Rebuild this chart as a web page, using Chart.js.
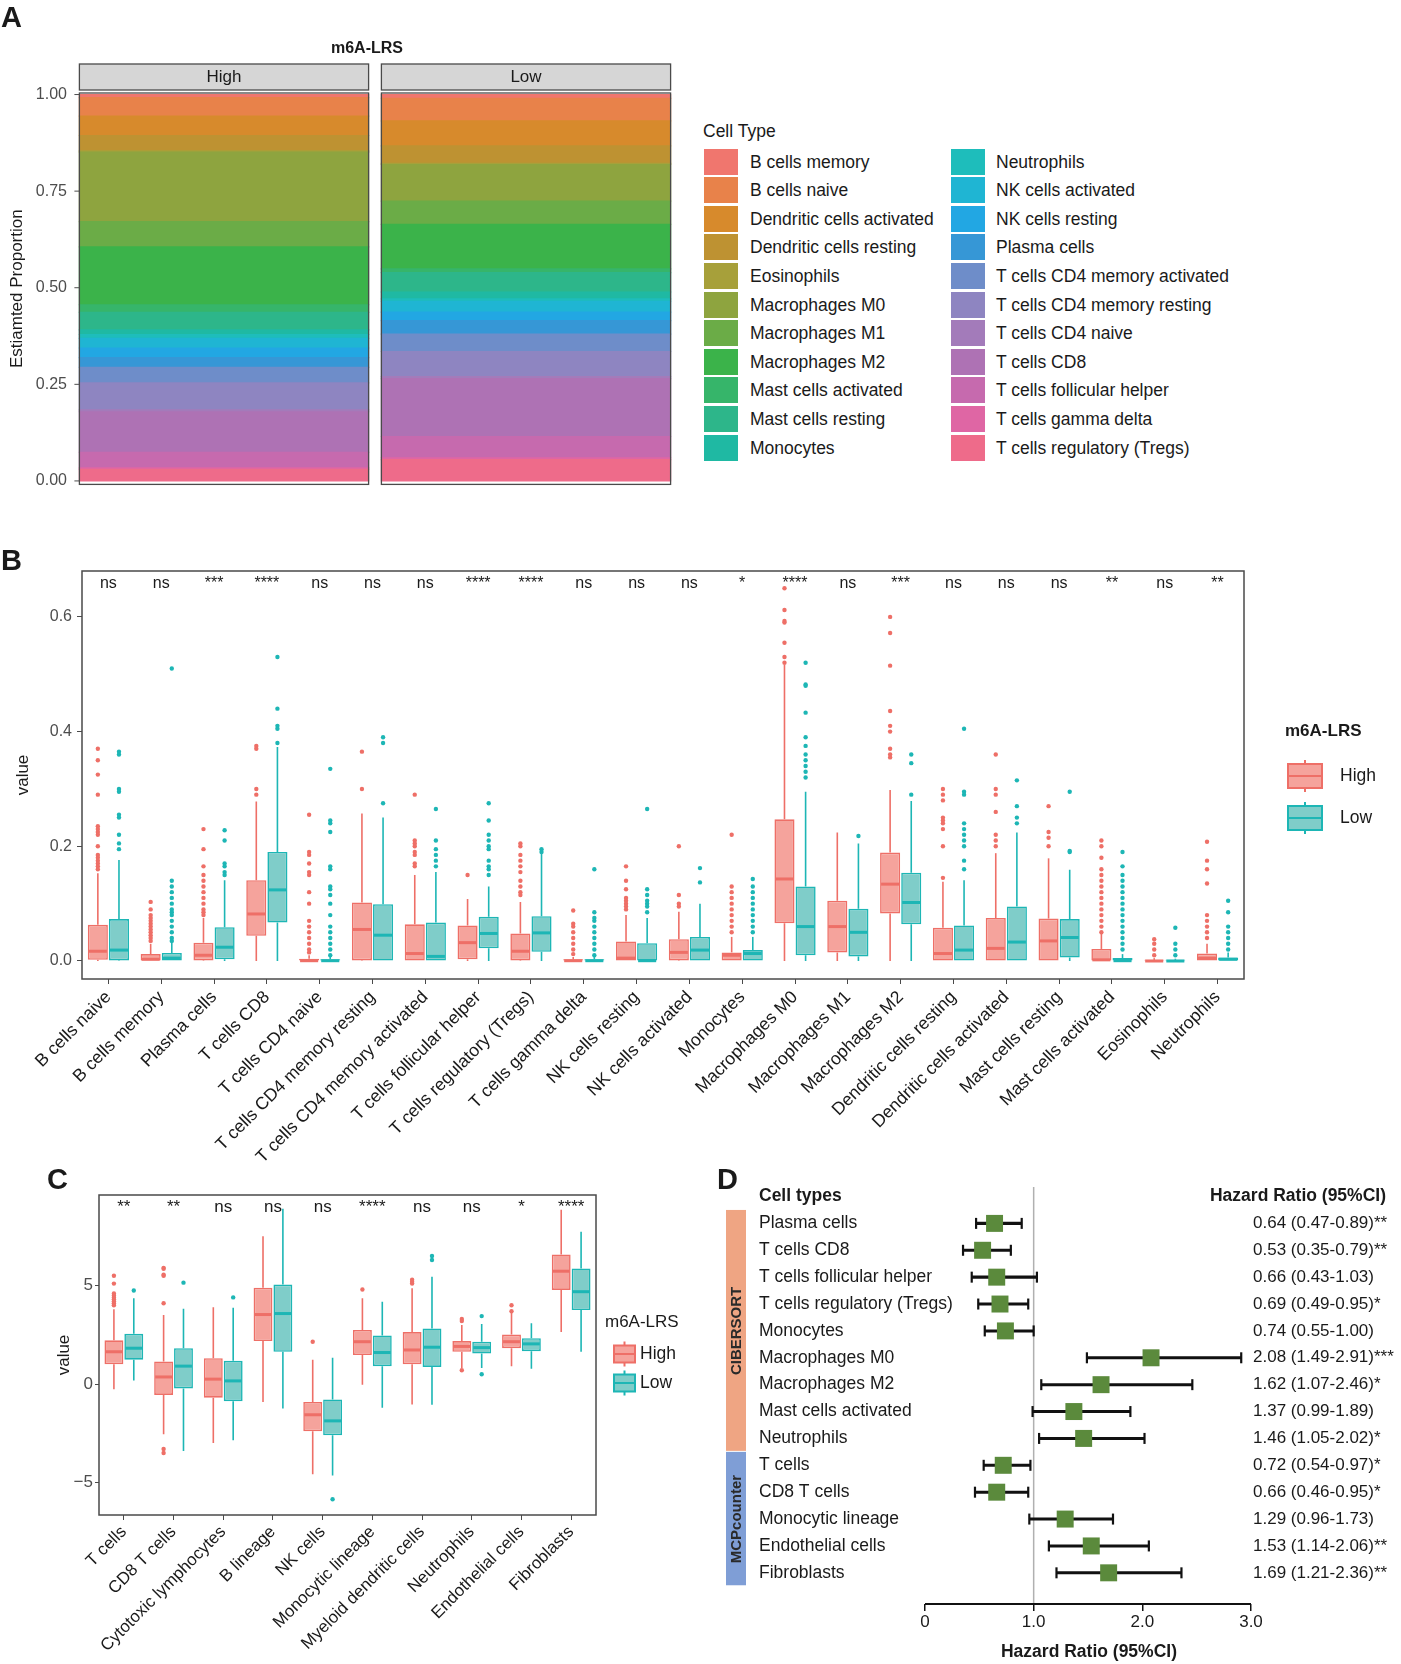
<!DOCTYPE html>
<html>
<head>
<meta charset="utf-8">
<script src="https://cdn.jsdelivr.net/npm/chart.js@4.4.1/dist/chart.umd.min.js"></script>
<style>
body { margin: 0; background: #fff; font-family: 'Liberation Sans', Arial, Helvetica, sans-serif; color: #1a1a1a; }
#page { position: relative; width: 1401px; height: 1664px; overflow: hidden; }
canvas { position: absolute; }
.tag { position: absolute; font-weight: bold; font-size: 29px; line-height: 30px; }
.sw { position: absolute; width: 34px; height: 26px; }
.lt { position: absolute; font-size: 17.5px; line-height: 26px; white-space: nowrap; }
.hd { position: absolute; font-weight: bold; font-size: 17.5px; line-height: 20px; white-space: nowrap; }
</style>
</head>
<body>
<div id="page">
  <canvas id="chartA" width="690" height="500" style="left:0px;top:0px"></canvas>
  <canvas id="chartB" width="1401" height="640" style="left:0px;top:540px"></canvas>
  <canvas id="chartC" width="700" height="514" style="left:0px;top:1150px"></canvas>
  <canvas id="chartD" width="701" height="514" style="left:700px;top:1150px"></canvas>
  <div class="tag" style="left:1px;top:2px">A</div>
  <div class="tag" style="left:1px;top:545px">B</div>
  <div class="tag" style="left:47px;top:1164px">C</div>
  <div class="tag" style="left:717px;top:1164px">D</div>
  <div id="legA"></div>
  <div class="hd" style="left:759px;top:1185px">Cell types</div>
  <div class="hd" style="right:15px;top:1185px">Hazard Ratio (95%CI)</div>
  <div class="hd" style="left:939px;width:300px;text-align:center;top:1641px">Hazard Ratio (95%CI)</div>
</div>
<script>
// ---------- panel A: CIBERSORT composition (mean proportion per group)
var groups = ['High', 'Low'];
var cellTypes = ['B cells memory', 'B cells naive', 'Dendritic cells activated', 'Dendritic cells resting',
  'Eosinophils', 'Macrophages M0', 'Macrophages M1', 'Macrophages M2', 'Mast cells activated',
  'Mast cells resting', 'Monocytes', 'Neutrophils', 'NK cells activated', 'NK cells resting',
  'Plasma cells', 'T cells CD4 memory activated', 'T cells CD4 memory resting', 'T cells CD4 naive',
  'T cells CD8', 'T cells follicular helper', 'T cells gamma delta', 'T cells regulatory (Tregs)'];
var cellColors = ['#F0766E', '#E8824A', '#D78A2C', '#BE9232', '#A7A03A', '#8EA43F', '#6BAC47', '#3BB34A',
  '#36B56A', '#2DB68A', '#1FB9A3', '#1EBDBB', '#1FB5D3', '#22A7E3', '#3697D6', '#6E8DC9',
  '#8E85C1', '#A37BBA', '#AE72B4', '#C66AAE', '#DF66A4', '#EE6B8A'];
var propHigh = [0.008, 0.048, 0.05, 0.04, 0.003, 0.18, 0.065, 0.15, 0.02, 0.045, 0.012,
  0.01, 0.025, 0.025, 0.025, 0.04, 0.07, 0.005, 0.105, 0.04, 0.004, 0.03];
var propLow = [0.01, 0.058, 0.065, 0.045, 0.003, 0.095, 0.06, 0.115, 0.01, 0.05, 0.018,
  0.006, 0.028, 0.022, 0.035, 0.045, 0.065, 0.005, 0.15, 0.055, 0.005, 0.055];
var yTicksA = [0, 0.25, 0.5, 0.75, 1];

// ---------- panel B: CIBERSORT boxplots [lower whisker, q1, median, q3, upper whisker]
var bCats = ['B cells naive', 'B cells memory', 'Plasma cells', 'T cells CD8', 'T cells CD4 naive',
  'T cells CD4 memory resting', 'T cells CD4 memory activated', 'T cells follicular helper',
  'T cells regulatory (Tregs)', 'T cells gamma delta', 'NK cells resting', 'NK cells activated',
  'Monocytes', 'Macrophages M0', 'Macrophages M1', 'Macrophages M2', 'Dendritic cells resting',
  'Dendritic cells activated', 'Mast cells resting', 'Mast cells activated', 'Eosinophils', 'Neutrophils'];
var bSig = ['ns', 'ns', '***', '****', 'ns', 'ns', 'ns', '****', '****', 'ns', 'ns', 'ns', '*', '****',
  'ns', '***', 'ns', 'ns', 'ns', '**', 'ns', '**'];
var bHigh = [[0, 0.002, 0.017, 0.063, 0.153], [0, 0, 0.003, 0.012, 0.03], [0, 0.001, 0.01, 0.032, 0.075],
  [0, 0.044, 0.082, 0.141, 0.278], [0, 0, 0.0005, 0.004, 0.01], [0, 0.001, 0.055, 0.102, 0.257],
  [0, 0, 0.013, 0.064, 0.15], [0, 0.003, 0.032, 0.062, 0.108], [0, 0.001, 0.017, 0.048, 0.103],
  [0, 0, 0.0005, 0.003, 0.007], [0, 0, 0.005, 0.034, 0.08], [0, 0.001, 0.015, 0.038, 0.086],
  [0, 0, 0.01, 0.015, 0.042], [0, 0.066, 0.143, 0.247, 0.516], [0, 0.015, 0.06, 0.105, 0.224],
  [0, 0.083, 0.134, 0.189, 0.298], [0, 0, 0.013, 0.058, 0.138], [0, 0, 0.022, 0.075, 0.188],
  [0, 0, 0.035, 0.074, 0.179], [0, 0, 0.002, 0.021, 0.048], [0, 0, 0, 0.002, 0.005],
  [0, 0, 0.005, 0.013, 0.03]];
var bLow = [[0, 0.001, 0.019, 0.073, 0.176], [0, 0, 0.005, 0.014, 0.033], [0, 0.003, 0.024, 0.059, 0.141],
  [0, 0.067, 0.124, 0.19, 0.373], [0, 0, 0.0005, 0.003, 0.007], [0, 0, 0.045, 0.099, 0.25],
  [0, 0, 0.008, 0.067, 0.155], [0, 0.022, 0.048, 0.077, 0.13], [0, 0.016, 0.049, 0.078, 0.188],
  [0, 0, 0.0005, 0.003, 0.007], [0, 0, 0.0005, 0.031, 0.075], [0, 0, 0.019, 0.042, 0.1],
  [0, 0, 0.013, 0.019, 0.042], [0, 0.01, 0.06, 0.13, 0.295], [0, 0.008, 0.05, 0.091, 0.205],
  [0, 0.064, 0.102, 0.154, 0.279], [0, 0, 0.019, 0.062, 0.141], [0, 0, 0.033, 0.095, 0.224],
  [0, 0.006, 0.041, 0.073, 0.159], [0, 0, 0.0005, 0.005, 0.012], [0, 0, 0, 0.002, 0.004],
  [0, 0, 0.003, 0.006, 0.015]];
var bHighOut = [[0.37, 0.35, 0.325, 0.29, 0.235, 0.23, 0.225, 0.22, 0.2, 0.185, 0.18, 0.175, 0.17, 0.165, 0.16],
  [0.103, 0.09, 0.08, 0.075, 0.07, 0.065, 0.06, 0.055, 0.05, 0.045, 0.04, 0.035],
  [0.23, 0.195, 0.165, 0.15, 0.14, 0.13, 0.12, 0.11, 0.1, 0.09, 0.085, 0.08],
  [0.375, 0.37, 0.3, 0.29],
  [0.255, 0.19, 0.185, 0.17, 0.155, 0.15, 0.12, 0.1, 0.07, 0.06, 0.05, 0.04, 0.03, 0.02, 0.015],
  [0.365, 0.3],
  [0.29, 0.21, 0.205, 0.2, 0.19, 0.185, 0.17, 0.165],
  [0.15],
  [0.205, 0.2, 0.185, 0.175, 0.165, 0.155, 0.14, 0.13, 0.12, 0.115],
  [0.088, 0.065, 0.06, 0.05, 0.04, 0.03, 0.02, 0.012],
  [0.165, 0.14, 0.125, 0.11, 0.105, 0.1, 0.095, 0.09],
  [0.2, 0.115, 0.1, 0.095],
  [0.22, 0.13, 0.12, 0.11, 0.1, 0.09, 0.08, 0.07, 0.06, 0.05],
  [0.65, 0.612, 0.593, 0.59, 0.555, 0.53, 0.52],
  [],
  [0.6, 0.572, 0.515, 0.436, 0.41, 0.4, 0.37, 0.36, 0.355],
  [0.3, 0.29, 0.28, 0.25, 0.245, 0.24, 0.23, 0.2, 0.145],
  [0.36, 0.3, 0.29, 0.26, 0.22, 0.21, 0.2],
  [0.27, 0.225, 0.215, 0.2],
  [0.21, 0.2, 0.18, 0.16, 0.15, 0.14, 0.13, 0.12, 0.11, 0.1, 0.09, 0.08, 0.07, 0.06, 0.05],
  [0.038, 0.03, 0.02, 0.01],
  [0.208, 0.175, 0.16, 0.135, 0.08, 0.07, 0.06, 0.05, 0.04]];
var bLowOut = [[0.365, 0.36, 0.3, 0.295, 0.255, 0.25, 0.22, 0.205, 0.195],
  [0.51, 0.14, 0.13, 0.12, 0.11, 0.1, 0.09, 0.085, 0.08, 0.07, 0.06, 0.05, 0.04, 0.035],
  [0.228, 0.21, 0.17, 0.165, 0.155, 0.15],
  [0.53, 0.44, 0.41, 0.405, 0.38],
  [0.335, 0.245, 0.24, 0.225, 0.165, 0.16, 0.13, 0.125, 0.115, 0.1, 0.08, 0.06, 0.05, 0.04, 0.03, 0.02, 0.01],
  [0.39, 0.38, 0.275],
  [0.265, 0.21, 0.195, 0.185, 0.175, 0.165],
  [0.275, 0.245, 0.22, 0.21, 0.2, 0.195, 0.175, 0.165, 0.16, 0.15],
  [0.195, 0.19],
  [0.16, 0.085, 0.075, 0.07, 0.06, 0.05, 0.04, 0.03, 0.02, 0.01],
  [0.265, 0.125, 0.115, 0.105, 0.1, 0.095, 0.085],
  [0.162, 0.137],
  [0.143, 0.13, 0.12, 0.11, 0.1, 0.09, 0.08, 0.07, 0.06, 0.05],
  [0.52, 0.482, 0.48, 0.433, 0.39, 0.375, 0.36, 0.35, 0.34, 0.33, 0.32],
  [0.218],
  [0.36, 0.345, 0.29],
  [0.405, 0.295, 0.29, 0.24, 0.23, 0.22, 0.21, 0.2, 0.175, 0.16],
  [0.315, 0.27, 0.25, 0.24],
  [0.295, 0.192, 0.19],
  [0.19, 0.165, 0.15, 0.14, 0.13, 0.12, 0.11, 0.1, 0.09, 0.08, 0.07, 0.06, 0.05, 0.04, 0.03, 0.02],
  [0.058, 0.03, 0.02, 0.01],
  [0.105, 0.085, 0.06, 0.05, 0.04, 0.03, 0.02]];
var yTicksB = [0, 0.2, 0.4, 0.6];

// ---------- panel C: MCPcounter boxplots
var cCats = ['T cells', 'CD8 T cells', 'Cytotoxic lymphocytes', 'B lineage', 'NK cells', 'Monocytic lineage',
  'Myeloid dendritic cells', 'Neutrophils', 'Endothelial cells', 'Fibroblasts'];
var cSig = ['**', '**', 'ns', 'ns', 'ns', '****', 'ns', 'ns', '*', '****'];
var cHigh = [[-0.27, 1.0, 1.64, 2.22, 3.8], [-2.55, -0.55, 0.36, 1.15, 3.5], [-3.0, -0.69, 0.25, 1.31, 3.9],
  [-0.91, 2.18, 3.53, 4.89, 7.5], [-4.58, -2.4, -1.56, -0.91, 1.24], [-0.04, 1.47, 2.15, 2.75, 4.36],
  [-1.04, 1.0, 1.73, 2.64, 4.87], [0.82, 1.64, 1.91, 2.18, 3.0], [0.91, 1.82, 2.15, 2.51, 3.64],
  [2.64, 4.78, 5.73, 6.58, 8.85]];
var cLow = [[0.18, 1.24, 1.82, 2.55, 4.36], [-3.4, -0.22, 0.91, 1.82, 3.82], [-2.85, -0.87, 0.16, 1.18, 3.87],
  [-1.24, 1.64, 3.58, 5.05, 8.9], [-4.64, -2.6, -1.87, -0.78, 1.33], [-1.2, 0.91, 1.6, 2.47, 4.18],
  [-1.05, 0.87, 1.87, 2.82, 5.45], [0.82, 1.55, 1.85, 2.15, 3.05], [0.78, 1.67, 2.04, 2.33, 3.09],
  [1.64, 3.76, 4.69, 5.87, 7.73]];
var cHighOut = [[5.5, 5.1, 4.6, 4.5, 4.4, 4.3, 4.2, 4.1, 4.0], [5.9, 5.85, 5.55, 5.5, 4.1, -3.3, -3.5], [], [],
  [2.15], [4.8], [5.3, 5.2, 5.1], [3.3, 3.2, 0.7], [4.0, 3.7], []];
var cLowOut = [[4.75], [5.15], [4.4], [], [-5.85], [], [6.5, 6.3], [3.45, 0.5], [], []];
var yTicksC = [-5, 0, 5];

// ---------- panel D: univariate Cox
var dTypes = ['Plasma cells', 'T cells CD8', 'T cells follicular helper', 'T cells regulatory (Tregs)',
  'Monocytes', 'Macrophages M0', 'Macrophages M2', 'Mast cells activated', 'Neutrophils',
  'T cells', 'CD8 T cells', 'Monocytic lineage', 'Endothelial cells', 'Fibroblasts'];
var dHR = [0.64, 0.53, 0.66, 0.69, 0.74, 2.08, 1.62, 1.37, 1.46, 0.72, 0.66, 1.29, 1.53, 1.69];
var dLo = [0.47, 0.35, 0.43, 0.49, 0.55, 1.49, 1.07, 0.99, 1.05, 0.54, 0.46, 0.96, 1.14, 1.21];
var dHi = [0.89, 0.79, 1.03, 0.95, 1.00, 2.91, 2.46, 1.89, 2.02, 0.97, 0.95, 1.73, 2.06, 2.36];
var dSig = ['**', '**', '', '*', '', '***', '*', '', '*', '*', '*', '', '**', '**'];
var dGroupNames = ['CIBERSORT', 'MCPcounter'];
var dGroupFrom = [0, 9];
var dGroupTo = [8, 13];
var dGroupColors = ['#EFA583', '#7F9ED6'];
var xTicksD = [0, 1, 2, 3];

var lineH = '#EE6F67', fillH = '#F5A39C';
var lineL = '#1DB6B5', fillL = '#7FCDC9';

Chart.defaults.font.family = "'Liberation Sans', Arial, Helvetica, sans-serif";
Chart.defaults.color = '#1a1a1a';
Chart.defaults.animation = false;
Chart.defaults.responsive = false;
Chart.defaults.plugins.legend.display = false;
Chart.defaults.plugins.tooltip.enabled = false;

function fixW(n) { return function (s) { s.width = n; }; }
function fixH(n) { return function (s) { s.height = n; }; }
function setTicks(list) { return function (s) { s.ticks = list.map(function (v) { return {value: v}; }); }; }

// legend of panel A (html)
var leg = document.getElementById('legA');
var t0 = document.createElement('div');
t0.className = 'lt'; t0.style.left = '703px'; t0.style.top = '118px'; t0.textContent = 'Cell Type';
leg.appendChild(t0);
cellTypes.forEach(function (name, i) {
  var col = i < 11 ? 0 : 1, row = i % 11;
  var top = 148.5 + 28.6 * row;
  var sw = document.createElement('div');
  sw.className = 'sw';
  sw.style.left = (col ? 951 : 704) + 'px';
  sw.style.top = top + 'px';
  sw.style.background = cellColors[i];
  var tx = document.createElement('div');
  tx.className = 'lt';
  tx.style.left = (col ? 996 : 750) + 'px';
  tx.style.top = top + 'px';
  tx.textContent = name;
  leg.appendChild(sw);
  leg.appendChild(tx);
});

// facets, strips, y tick marks and title of panel A
var facetPlugin = {
  id: 'facets',
  afterDraw: function (chart) {
    var ctx = chart.ctx, ca = chart.chartArea, ys = chart.scales.y;
    var meta = chart.getDatasetMeta(0);
    ctx.save();
    var l0 = 1e9, r0 = -1e9;
    meta.data.forEach(function (bar, i) {
      var l = bar.x - bar.width / 2, r = bar.x + bar.width / 2;
      l0 = Math.min(l0, l); r0 = Math.max(r0, r);
      ctx.strokeStyle = '#4a4a4a'; ctx.lineWidth = 1.3;
      ctx.strokeRect(l, ca.top, r - l, ca.bottom - ca.top);
      ctx.fillStyle = '#d6d6d6';
      ctx.fillRect(l, ca.top - 29, r - l, 26);
      ctx.strokeRect(l, ca.top - 29, r - l, 26);
      ctx.fillStyle = '#1a1a1a';
      ctx.font = "17px 'Liberation Sans', Arial, sans-serif";
      ctx.textAlign = 'center'; ctx.textBaseline = 'middle';
      ctx.fillText(chart.data.labels[i], (l + r) / 2, ca.top - 16);
    });
    ctx.strokeStyle = '#4d4d4d'; ctx.lineWidth = 1;
    yTicksA.forEach(function (v) {
      var y = ys.getPixelForValue(v);
      ctx.beginPath(); ctx.moveTo(l0 - 5, y); ctx.lineTo(l0, y); ctx.stroke();
    });
    ctx.font = "bold 16px 'Liberation Sans', Arial, sans-serif";
    ctx.fillText('m6A-LRS', (l0 + r0) / 2 - 8, ca.top - 44);
    ctx.restore();
  }
};

var dsA = [];
for (var k = cellTypes.length - 1; k >= 0; k--) {
  dsA.push({label: cellTypes[k], data: [propHigh[k], propLow[k]], backgroundColor: cellColors[k],
    borderWidth: 0, inflateAmount: 0.6, categoryPercentage: 0.9576, barPercentage: 1});
}
new Chart(document.getElementById('chartA'), {
  type: 'bar',
  data: {labels: groups, datasets: dsA},
  options: {
    layout: {padding: {top: 93, right: 13, bottom: 10, left: 0}},
    scales: {
      x: {stacked: true, display: false},
      y: {stacked: true, min: -0.009, max: 1.004,
        afterBuildTicks: setTicks(yTicksA), afterFit: fixW(73),
        ticks: {callback: function (v) { return v.toFixed(2); }, font: {size: 16}, color: '#4d4d4d', padding: 6},
        grid: {display: false, drawTicks: false},
        border: {display: false},
        title: {display: true, text: 'Estiamted Proportion', font: {size: 17}, padding: {top: 7}}}
    }
  },
  plugins: [facetPlugin]
});

// whiskers, medians, outliers, significance and legend for the boxplot panels
function boxPlugin(cfg) {
  function each(chart, fn) {
    var ys = chart.scales.y;
    [0, 1].forEach(function (d) {
      var meta = chart.getDatasetMeta(d);
      meta.data.forEach(function (bar, i) { fn(d, i, bar, cfg.stats[d][i], ys); });
    });
  }
  return {
    id: 'boxes',
    beforeDatasetsDraw: function (chart) {
      var ctx = chart.ctx;
      ctx.save();
      ctx.lineWidth = 1.6;
      each(chart, function (d, i, bar, s, ys) {
        ctx.strokeStyle = cfg.lines[d];
        ctx.beginPath();
        ctx.moveTo(bar.x, ys.getPixelForValue(s[3])); ctx.lineTo(bar.x, ys.getPixelForValue(s[4]));
        ctx.moveTo(bar.x, ys.getPixelForValue(s[1])); ctx.lineTo(bar.x, ys.getPixelForValue(s[0]));
        ctx.stroke();
      });
      ctx.restore();
    },
    afterDatasetsDraw: function (chart) {
      var ctx = chart.ctx;
      ctx.save();
      each(chart, function (d, i, bar, s, ys) {
        ctx.strokeStyle = cfg.lines[d];
        ctx.lineWidth = 3;
        var ym = ys.getPixelForValue(s[2]);
        ctx.beginPath();
        ctx.moveTo(bar.x - bar.width / 2 + 1, ym); ctx.lineTo(bar.x + bar.width / 2 - 1, ym);
        ctx.stroke();
        ctx.fillStyle = cfg.lines[d];
        cfg.outs[d][i].forEach(function (v) {
          ctx.beginPath();
          ctx.arc(bar.x, ys.getPixelForValue(v), 2.2, 0, Math.PI * 2);
          ctx.fill();
        });
      });
      ctx.restore();
    },
    afterDraw: function (chart) {
      var ctx = chart.ctx, ca = chart.chartArea, xs = chart.scales.x;
      ctx.save();
      ctx.strokeStyle = '#4a4a4a'; ctx.lineWidth = 1.5;
      ctx.strokeRect(ca.left, ca.top, ca.right - ca.left, ca.bottom - ca.top);
      ctx.fillStyle = '#1a1a1a';
      ctx.font = cfg.sigSize + "px 'Liberation Sans', Arial, sans-serif";
      ctx.textAlign = 'center'; ctx.textBaseline = 'middle';
      cfg.sig.forEach(function (t, i) {
        ctx.fillText(t, xs.getPixelForValue(i), ca.top + cfg.sigOffset);
      });
      // legend
      var L = cfg.legend;
      ctx.textAlign = 'left';
      ctx.font = (L.bold ? 'bold ' : '') + "17px 'Liberation Sans', Arial, sans-serif";
      ctx.fillText('m6A-LRS', L.x, L.titleY);
      ['High', 'Low'].forEach(function (name, d) {
        var cy = L.y0 + d * L.dy, x0 = L.x + L.kx;
        ctx.strokeStyle = cfg.lines[d]; ctx.lineWidth = 2;
        ctx.beginPath();
        ctx.moveTo(x0 + L.w / 2, cy - L.h / 2 - 4); ctx.lineTo(x0 + L.w / 2, cy + L.h / 2 + 4);
        ctx.stroke();
        ctx.fillStyle = cfg.fills[d];
        ctx.fillRect(x0, cy - L.h / 2, L.w, L.h);
        ctx.strokeRect(x0, cy - L.h / 2, L.w, L.h);
        ctx.beginPath(); ctx.moveTo(x0, cy); ctx.lineTo(x0 + L.w, cy); ctx.stroke();
        ctx.fillStyle = '#1a1a1a';
        ctx.font = "17.5px 'Liberation Sans', Arial, sans-serif";
        ctx.fillText(name, L.x + L.tx, cy);
      });
      ctx.restore();
    }
  };
}

function boxDatasets(high, low) {
  return [
    {label: 'High', data: high.map(function (s) { return [s[1], s[3]]; }), backgroundColor: fillH,
      borderColor: lineH, borderWidth: 1.6, borderSkipped: false, categoryPercentage: 0.8, barPercentage: 0.95},
    {label: 'Low', data: low.map(function (s) { return [s[1], s[3]]; }), backgroundColor: fillL,
      borderColor: lineL, borderWidth: 1.6, borderSkipped: false, categoryPercentage: 0.8, barPercentage: 0.95}
  ];
}

new Chart(document.getElementById('chartB'), {
  type: 'bar',
  data: {labels: bCats, datasets: boxDatasets(bHigh, bLow)},
  options: {
    layout: {padding: {top: 31, right: 157, bottom: 0, left: 0}},
    scales: {
      x: {afterFit: fixH(201),
        ticks: {maxRotation: 45, minRotation: 45, autoSkip: false, font: {size: 17.6}, color: '#1a1a1a', padding: 3},
        grid: {offset: false, drawOnChartArea: false, tickLength: 5, color: '#4a4a4a'},
        border: {display: false}},
      y: {min: -0.0314, max: 0.68, afterBuildTicks: setTicks(yTicksB), afterFit: fixW(82),
        ticks: {callback: function (v) { return v.toFixed(1); }, font: {size: 16}, color: '#4d4d4d', padding: 5},
        grid: {drawOnChartArea: false, tickLength: 5, color: '#4a4a4a'},
        border: {display: false},
        title: {display: true, text: 'value', font: {size: 17}, padding: {top: 13}}}
    }
  },
  plugins: [boxPlugin({stats: [bHigh, bLow], outs: [bHighOut, bLowOut], lines: [lineH, lineL], fills: [fillH, fillL],
    sig: bSig, sigSize: 16, sigOffset: 13,
    legend: {x: 1285, titleY: 191, bold: true, kx: 3, w: 34, h: 24, y0: 236, dy: 42, tx: 55}})]
});

new Chart(document.getElementById('chartC'), {
  type: 'bar',
  data: {labels: cCats, datasets: boxDatasets(cHigh, cLow)},
  options: {
    layout: {padding: {top: 45, right: 104, bottom: 0, left: 0}},
    scales: {
      x: {afterFit: fixH(149),
        ticks: {maxRotation: 45, minRotation: 45, autoSkip: false, font: {size: 17}, color: '#1a1a1a', padding: 2},
        grid: {offset: false, drawOnChartArea: false, tickLength: 5, color: '#4a4a4a'},
        border: {display: false}},
      y: {min: -6.65, max: 9.6, afterBuildTicks: setTicks(yTicksC), afterFit: fixW(99),
        ticks: {callback: function (v) { return v < 0 ? '\u2212' + Math.abs(v) : String(v); },
          font: {size: 17}, color: '#4d4d4d', padding: 2},
        grid: {drawOnChartArea: false, tickLength: 4, color: '#4a4a4a'},
        border: {display: false},
        title: {display: true, text: 'value', font: {size: 17}, padding: {top: 54}}}
    }
  },
  plugins: [boxPlugin({stats: [cHigh, cLow], outs: [cHighOut, cLowOut], lines: [lineH, lineL], fills: [fillH, fillL],
    sig: cSig, sigSize: 17, sigOffset: 12,
    legend: {x: 605, titleY: 172, bold: false, kx: 9, w: 21, h: 17, y0: 204, dy: 29, tx: 35}})]
});

// forest plot
var forestPlugin = {
  id: 'forest',
  beforeDatasetsDraw: function (chart) {
    var ctx = chart.ctx, ca = chart.chartArea, xs = chart.scales.x;
    ctx.save();
    ctx.strokeStyle = '#b0b0b0'; ctx.lineWidth = 1.5;
    ctx.beginPath();
    ctx.moveTo(xs.getPixelForValue(1), ca.top); ctx.lineTo(xs.getPixelForValue(1), ca.bottom);
    ctx.stroke();
    ctx.restore();
  },
  afterDatasetsDraw: function (chart) {
    var ctx = chart.ctx, xs = chart.scales.x, ys = chart.scales.y, ca = chart.chartArea;
    ctx.save();
    ctx.strokeStyle = '#111'; ctx.lineWidth = 2.2;
    dLo.forEach(function (lo, i) {
      var y = ys.getPixelForValue(i);
      [lo, dHi[i]].forEach(function (v) {
        var x = xs.getPixelForValue(v);
        ctx.beginPath(); ctx.moveTo(x, y - 5.5); ctx.lineTo(x, y + 5.5); ctx.stroke();
      });
    });
    // axis line spans the tick range only
    ctx.lineWidth = 2;
    ctx.beginPath();
    ctx.moveTo(xs.getPixelForValue(xTicksD[0]), ca.bottom);
    ctx.lineTo(xs.getPixelForValue(xTicksD[xTicksD.length - 1]), ca.bottom);
    ctx.stroke();
    ctx.restore();
  },
  afterDraw: function (chart) {
    var ctx = chart.ctx, ys = chart.scales.y;
    ctx.save();
    dGroupNames.forEach(function (name, g) {
      var top = ys.getPixelForValue(dGroupFrom[g] - 0.5), bot = ys.getPixelForValue(dGroupTo[g] + 0.5);
      ctx.fillStyle = dGroupColors[g];
      ctx.fillRect(26, top, 20, bot - top - 1);
      ctx.save();
      ctx.translate(36, (top + bot) / 2);
      ctx.rotate(-Math.PI / 2);
      ctx.fillStyle = '#2a2a2a';
      ctx.font = "bold 15px 'Liberation Sans', Arial, sans-serif";
      ctx.textAlign = 'center'; ctx.textBaseline = 'middle';
      ctx.fillText(name, 0, 1);
      ctx.restore();
    });
    ctx.restore();
  }
};

var rowIdx = dTypes.map(function (t, i) { return i; });
new Chart(document.getElementById('chartD'), {
  type: 'bar',
  data: {
    labels: dTypes,
    datasets: [
      {type: 'scatter', data: dHR.map(function (v, i) { return {x: v, y: i}; }), pointStyle: 'rect',
        pointRadius: 12, backgroundColor: '#5B8A3C', borderWidth: 0},
      {type: 'bar', indexAxis: 'y', data: dLo.map(function (v, i) { return {x: [v, dHi[i]], y: i}; }),
        backgroundColor: '#111', barThickness: 2.4, borderWidth: 0}
    ]
  },
  options: {
    indexAxis: 'y',
    layout: {padding: {top: 37, right: 0, bottom: 0, left: 59}},
    scales: {
      x: {type: 'linear', min: -1.5276, max: 3, afterBuildTicks: setTicks(xTicksD), afterFit: fixH(60),
        ticks: {callback: function (v) { return v === 0 ? '0' : v.toFixed(1); }, font: {size: 17}, color: '#1a1a1a', padding: 1},
        grid: {drawOnChartArea: false, tickLength: 7, color: '#111', lineWidth: 1.5},
        border: {display: false}},
      y: {type: 'linear', reverse: true, offset: false, min: -1.354, max: 14.16, afterBuildTicks: setTicks(rowIdx), afterFit: fixW(0),
        ticks: {callback: function (v) { return dTypes[v]; }, mirror: true, crossAlign: 'near', font: {size: 17.5}, color: '#1a1a1a', padding: 0},
        grid: {display: false, drawTicks: false}, border: {display: false}},
      y2: {type: 'linear', position: 'right', reverse: true, offset: false, min: -1.354, max: 14.16, afterBuildTicks: setTicks(rowIdx), afterFit: fixW(150),
        ticks: {callback: function (v) { return dHR[v].toFixed(2) + ' (' + dLo[v].toFixed(2) + '-' + dHi[v].toFixed(2) + ')' + dSig[v]; },
          crossAlign: 'near', font: {size: 17}, color: '#1a1a1a', padding: 2},
        grid: {display: false, drawTicks: false}, border: {display: false}}
    }
  },
  plugins: [forestPlugin]
});
</script>
</body>
</html>
